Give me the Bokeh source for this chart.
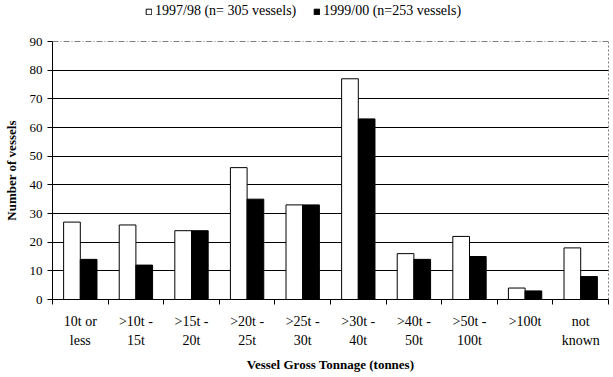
import numpy as np
from bokeh.plotting import figure
from bokeh.layouts import column
from bokeh.models import (ColumnDataSource, Range1d, FixedTicker, Span, Legend, LegendItem, LinearAxis)
from bokeh.embed import file_html
from bokeh.resources import INLINE

categories = ["10t or\nless", ">10t -\n15t", ">15t -\n20t", ">20t -\n25t", ">25t -\n30t",
              ">30t -\n40t", ">40t -\n50t", ">50t -\n100t", ">100t", "not\nknown"]
v_9798 = [27, 26, 24, 46, 33, 77, 16, 22, 4, 18]
v_9900 = [14, 12, 24, 35, 33, 63, 14, 15, 3, 8]
y_ticks = [0, 10, 20, 30, 40, 50, 60, 70, 80, 90]
series_names = ["1997/98 (n= 305 vessels)", "1999/00 (n=253 vessels)"]

FONT = "Liberation Serif"
n = len(categories)
idx = np.arange(n)
src = ColumnDataSource(dict(
    x1=idx + 0.5 - 0.15,
    x2=idx + 0.5 + 0.15,
    a=v_9798,
    b=v_9900,
))

LEG_H = 33
p = figure(width=613, height=377 - LEG_H, output_backend="svg", toolbar_location=None,
           x_range=Range1d(0, n), y_range=Range1d(0, 90), x_axis_location=None,
           min_border_left=50, min_border_right=5, min_border_top=8, min_border_bottom=78)
p.outline_line_color = None
p.background_fill_color = "white"
p.border_fill_color = "white"

r1 = p.vbar(x="x1", top="a", width=0.3, source=src, fill_color="white", line_color="black", line_width=1)
r2 = p.vbar(x="x2", top="b", width=0.3, source=src, fill_color="black", line_color="black", line_width=1)

# grids
p.xgrid.visible = False
p.ygrid.ticker = FixedTicker(ticks=y_ticks[1:-1])
p.ygrid.grid_line_color = "black"
p.ygrid.grid_line_width = 1

# y axis
p.yaxis.ticker = FixedTicker(ticks=y_ticks)
p.yaxis.minor_tick_line_color = None
p.yaxis.major_tick_in = 0
p.yaxis.major_tick_out = 5
p.yaxis.axis_line_color = "black"
p.yaxis.major_tick_line_color = "black"
p.yaxis.major_label_text_font = FONT
p.yaxis.major_label_text_font_size = "13px"
p.yaxis.major_label_text_color = "black"
p.yaxis.major_label_standoff = 5
p.yaxis.axis_label = "Number of vessels"
p.yaxis.axis_label_text_font = FONT
p.yaxis.axis_label_text_font_size = "13px"
p.yaxis.axis_label_text_font_style = "bold"
p.yaxis.axis_label_text_color = "black"
p.yaxis.axis_label_standoff = 8

# x axes: first line of labels (with boundary ticks), then second line + title
centres = [float(c) for c in idx + 0.5]
line1 = [c.split("\n")[0] for c in categories]
line2 = [c.split("\n")[1] if "\n" in c else "" for c in categories]

ax1 = LinearAxis(ticker=FixedTicker(ticks=centres, minor_ticks=list(range(n + 1))),
                 major_label_overrides={c: t for c, t in zip(centres, line1)},
                 major_tick_line_color=None, major_tick_in=0, major_tick_out=0,
                 minor_tick_line_color="black", minor_tick_in=0, minor_tick_out=5,
                 axis_line_color="black",
                 major_label_text_font=FONT, major_label_text_font_size="14px",
                 major_label_text_color="black", major_label_standoff=9)
ax2 = LinearAxis(ticker=FixedTicker(ticks=centres),
                 major_label_overrides={c: t for c, t in zip(centres, line2)},
                 major_tick_line_color=None, major_tick_in=0, major_tick_out=0,
                 minor_tick_line_color=None, axis_line_color=None,
                 major_label_text_font=FONT, major_label_text_font_size="14px",
                 major_label_text_color="black", major_label_standoff=1,
                 axis_label="Vessel Gross Tonnage (tonnes)",
                 axis_label_text_font=FONT, axis_label_text_font_size="13px",
                 axis_label_text_font_style="bold", axis_label_text_color="black",
                 axis_label_standoff=6)
p.add_layout(ax1, "below")
p.add_layout(ax2, "below")

# frame top and right
p.add_layout(Span(location=90, dimension="width", line_color="black", line_width=1, line_dash="6 2 1 2"))
p.add_layout(Span(location=n, dimension="height", line_color="black", line_width=1, line_dash="2 2"))

# legend strip above the chart (its renderers sit outside the visible range)
lf = figure(width=613, height=LEG_H, output_backend="svg", toolbar_location=None,
            x_range=Range1d(0, 1), y_range=Range1d(0, 1),
            x_axis_location=None, y_axis_location=None,
            min_border=0, min_border_left=0, min_border_right=0, min_border_top=0, min_border_bottom=0)
lf.outline_line_color = None
lf.xgrid.visible = False
lf.ygrid.visible = False
hidden = ColumnDataSource(dict(x=[-5.0], top=[-5.0]))
l1 = lf.vbar(x="x", top="top", width=0.3, source=hidden, fill_color="white", line_color="black", line_width=1)
l2 = lf.vbar(x="x", top="top", width=0.3, source=hidden, fill_color="black", line_color="black", line_width=1)
legend = Legend(items=[LegendItem(label=series_names[0], renderers=[l1]),
                       LegendItem(label=series_names[1], renderers=[l2])],
                orientation="horizontal", location=(93, 14),
                glyph_width=7, glyph_height=7, label_standoff=3, spacing=17,
                padding=0, margin=0, border_line_color=None, background_fill_alpha=0,
                label_text_font=FONT, label_text_font_size="14px", label_text_color="black")
lf.add_layout(legend)

layout = column(lf, p, spacing=0)
open("out.html", "w").write(file_html(layout, INLINE))
